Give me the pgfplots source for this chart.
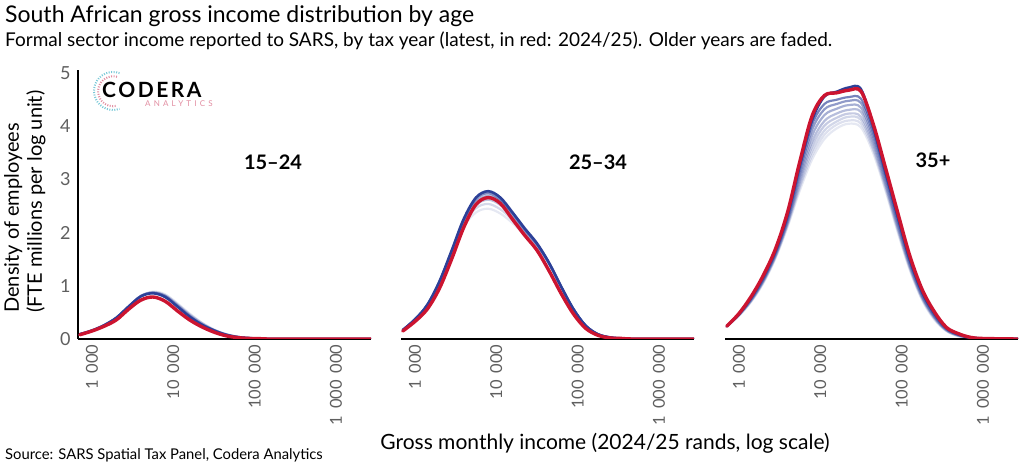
\documentclass[border=0pt]{standalone}
\usepackage{fontspec}
\setmainfont{Lato}
\newfontfamily\logofont{Lato}[LetterSpace=12]
\newfontfamily\logosmall{Lato}[LetterSpace=40]
\newfontfamily\tickfont{Lato}[Numbers={Monospaced,Lining}]
\usepackage{pgfplots}
\usepackage{pgfplotstable}
\pgfplotsset{compat=1.18}
\definecolor{cred}{RGB}{204,20,48}
\definecolor{cblue}{RGB}{44,64,152}
\definecolor{tickgray}{RGB}{95,95,95}
\definecolor{logopink}{RGB}{225,140,160}
\definecolor{logoteal}{RGB}{120,200,215}
\newcommand{\ts}{\hspace{0.42em}}

% 15-24
\pgfplotstableread{
x f1 f2 f3 dk red
2.85 0.09 0.09 0.09 0.09 0.08
3.00 0.16 0.16 0.16 0.16 0.15
3.15 0.26 0.26 0.26 0.26 0.24
3.30 0.40 0.40 0.40 0.40 0.36
3.45 0.60 0.61 0.61 0.61 0.56
3.60 0.80 0.81 0.81 0.80 0.73
3.75 0.89 0.88 0.87 0.86 0.79
3.90 0.84 0.82 0.81 0.79 0.71
4.05 0.67 0.65 0.63 0.61 0.53
4.20 0.48 0.46 0.44 0.42 0.36
4.35 0.31 0.30 0.28 0.27 0.23
4.50 0.18 0.17 0.17 0.16 0.13
4.65 0.09 0.09 0.08 0.08 0.06
4.80 0.04 0.04 0.035 0.035 0.025
4.95 0.015 0.015 0.015 0.015 0.01
5.10 0.005 0.005 0.005 0.005 0.005
5.25 0 0 0 0 0
6.43 0 0 0 0 0
}\tA

% 25-34
\pgfplotstableread{
x s1 s2 s3 s4 s5 dk red
2.85 0.17 0.17 0.17 0.17 0.17 0.17 0.15
3.00 0.35 0.36 0.36 0.37 0.37 0.37 0.33
3.15 0.61 0.62 0.62 0.63 0.64 0.64 0.56
3.30 1.05 1.06 1.06 1.07 1.08 1.08 0.95
3.45 1.59 1.61 1.63 1.64 1.65 1.66 1.50
3.60 2.11 2.15 2.19 2.22 2.24 2.26 2.10
3.75 2.38 2.46 2.52 2.58 2.63 2.66 2.53
3.90 2.45 2.54 2.62 2.69 2.74 2.78 2.66
4.05 2.36 2.44 2.52 2.58 2.62 2.66 2.55
4.20 2.18 2.24 2.28 2.33 2.36 2.38 2.25
4.35 1.96 2.00 2.02 2.05 2.07 2.08 1.95
4.50 1.73 1.75 1.77 1.78 1.79 1.80 1.67
4.65 1.40 1.41 1.41 1.42 1.43 1.43 1.28
4.80 0.96 0.97 0.97 0.98 0.98 0.98 0.85
4.95 0.56 0.56 0.56 0.56 0.56 0.56 0.47
5.10 0.25 0.25 0.25 0.25 0.25 0.25 0.20
5.25 0.09 0.09 0.09 0.09 0.09 0.09 0.07
5.40 0.03 0.03 0.03 0.03 0.03 0.03 0.02
5.55 0.01 0.01 0.01 0.01 0.01 0.01 0.01
5.70 0 0 0 0 0 0 0
6.43 0 0 0 0 0 0 0
}\tB

% 35+
\pgfplotstableread{
x b0 b1 b2 b3 b4 b5 b6 b7 dk red
2.85 0.24 0.24 0.24 0.24 0.24 0.24 0.24 0.24 0.24 0.24
3.00 0.44 0.44 0.45 0.45 0.46 0.46 0.47 0.47 0.47 0.48
3.15 0.70 0.71 0.72 0.73 0.74 0.76 0.77 0.78 0.78 0.80
3.30 1.05 1.07 1.08 1.10 1.11 1.13 1.15 1.17 1.18 1.20
3.45 1.52 1.54 1.56 1.57 1.60 1.62 1.64 1.66 1.67 1.70
3.60 2.12 2.15 2.18 2.20 2.24 2.27 2.31 2.34 2.35 2.40
3.75 2.80 2.86 2.91 2.97 3.03 3.10 3.17 3.24 3.28 3.35
3.90 3.38 3.46 3.54 3.63 3.72 3.83 3.94 4.04 4.12 4.20
4.05 3.76 3.84 3.92 4.01 4.10 4.21 4.32 4.42 4.56 4.58
4.20 3.96 4.03 4.09 4.16 4.24 4.33 4.42 4.50 4.65 4.63
4.35 4.05 4.11 4.18 4.24 4.31 4.40 4.48 4.55 4.73 4.68
4.50 3.98 4.05 4.12 4.18 4.27 4.35 4.44 4.52 4.70 4.66
4.65 3.50 3.56 3.61 3.67 3.73 3.80 3.87 3.94 4.00 4.05
4.80 2.80 2.84 2.89 2.93 2.98 3.04 3.09 3.14 3.15 3.23
4.95 2.02 2.06 2.09 2.13 2.18 2.22 2.27 2.32 2.32 2.39
5.10 1.30 1.33 1.35 1.38 1.41 1.45 1.48 1.52 1.50 1.57
5.25 0.74 0.76 0.78 0.80 0.82 0.85 0.88 0.90 0.89 0.94
5.40 0.37 0.39 0.40 0.42 0.43 0.45 0.47 0.49 0.49 0.52
5.55 0.15 0.16 0.16 0.17 0.18 0.19 0.20 0.21 0.21 0.22
5.70 0.05 0.06 0.06 0.07 0.07 0.08 0.08 0.09 0.09 0.10
5.85 0.02 0.02 0.02 0.02 0.02 0.03 0.03 0.03 0.03 0.03
6.00 0.00 0.00 0.00 0.00 0.00 0.01 0.01 0.01 0.01 0.01
6.43 0 0 0 0 0 0 0 0 0 0
}\tC

\pgfplotsset{
  panel/.style={
    scale only axis, width=293pt, height=269pt,
    xmin=2.828, xmax=6.432, ymin=0, ymax=5.06,
    xtick={3,4,5,6}, xticklabels={1\ts000,10\ts000,100\ts000,1\ts000\ts000},
    major tick length=0pt,
    axis x line*=bottom,
    x axis line style={-, line width=1.3pt, black},
    xticklabel style={rotate=90, anchor=east, font=\tickfont\fontsize{16.5}{16.5}\selectfont, text=tickgray, xshift=-2pt},
    every axis plot/.append style={smooth, tension=0.55, no markers, line join=round, line cap=round},
  },
  old/.style={cblue, line width=2.2pt, opacity=#1},
  dark/.style={cblue, line width=2.6pt},
  latest/.style={cred, line width=3.4pt},
}

\begin{document}
\begin{tikzpicture}[x=1pt,y=1pt]
\path[use as bounding box] (0,0) rectangle (1024,465);

% titles
\node[anchor=base west, inner sep=0pt, font=\fontsize{23}{27}\selectfont] at (5,442) {South African gross income distribution by age};
\node[anchor=base west, inner sep=0pt, font=\fontsize{19}{22}\selectfont] at (5,418) {Formal sector income reported to SARS, by tax year (latest, in red: 2024/25). Older years are faded.};

% panel 1
\begin{axis}[panel, at={(78pt,126pt)}, anchor=south west,
  axis y line*=left, y axis line style={-, line width=1.3pt, black},
  ytick={0,1,2,3,4,5}, yticklabels={0,1,2,3,4,5},
  yticklabel style={font=\fontsize{18}{18}\selectfont, text=tickgray, xshift=-4pt}]
\addplot[old=0.15] table[x=x,y=f1] {\tA};
\addplot[old=0.3] table[x=x,y=f2] {\tA};
\addplot[old=0.5] table[x=x,y=f3] {\tA};
\addplot[dark] table[x=x,y=dk] {\tA};
\addplot[latest] table[x=x,y=red] {\tA};
\end{axis}

% panel 2
\begin{axis}[panel, at={(401pt,126pt)}, anchor=south west, hide y axis]
\addplot[old=0.12] table[x=x,y=s1] {\tB};
\addplot[old=0.2] table[x=x,y=s2] {\tB};
\addplot[old=0.3] table[x=x,y=s3] {\tB};
\addplot[old=0.42] table[x=x,y=s4] {\tB};
\addplot[old=0.6] table[x=x,y=s5] {\tB};
\addplot[dark] table[x=x,y=dk] {\tB};
\addplot[latest] table[x=x,y=red] {\tB};
\end{axis}

% panel 3
\begin{axis}[panel, at={(725pt,126pt)}, anchor=south west, hide y axis]
\addplot[old=0.12] table[x=x,y=b0] {\tC};
\addplot[old=0.16] table[x=x,y=b1] {\tC};
\addplot[old=0.21] table[x=x,y=b2] {\tC};
\addplot[old=0.27] table[x=x,y=b3] {\tC};
\addplot[old=0.34] table[x=x,y=b4] {\tC};
\addplot[old=0.42] table[x=x,y=b5] {\tC};
\addplot[old=0.52] table[x=x,y=b6] {\tC};
\addplot[old=0.65] table[x=x,y=b7] {\tC};
\addplot[dark] table[x=x,y=dk] {\tC};
\addplot[latest] table[x=x,y=red] {\tC};
\end{axis}

% panel labels
\node[font=\fontsize{20}{20}\selectfont\bfseries] at (273,303) {15–24};
\node[font=\fontsize{20}{20}\selectfont\bfseries] at (598,303) {25–34};
\node[font=\fontsize{20}{20}\selectfont\bfseries] at (933,305) {35+};

% y label
\node[rotate=90, anchor=north west, align=left, inner sep=0pt, font=\fontsize{20}{23}\selectfont] at (4,152) {Density of employees\\(FTE millions per log unit)};

% x label and source
\node[font=\fontsize{21}{21}\selectfont] at (605,22) {Gross monthly income (2024/25 rands, log scale)};
\node[anchor=west, inner sep=0pt, font=\fontsize{14.8}{15}\selectfont] at (5,10) {Source: SARS Spatial Tax Panel, Codera Analytics};

% logo
\draw[logoteal, line width=2pt, dash pattern=on 1pt off 1.5pt] (119.5,391.9) arc[start angle=70, end angle=290, radius=19];
\draw[logopink, line width=2pt, dash pattern=on 1pt off 1.5pt] (117,388.2) arc[start angle=75, end angle=285, radius=15];
\node[anchor=west, inner sep=0pt, font=\logofont\bfseries\fontsize{21}{21}\selectfont] at (102,375) {CODERA};
\node[anchor=west, inner sep=0pt, text=logopink, font=\logosmall\fontsize{8}{8}\selectfont] at (145,361) {ANALYTICS};
\end{tikzpicture}
\end{document}
